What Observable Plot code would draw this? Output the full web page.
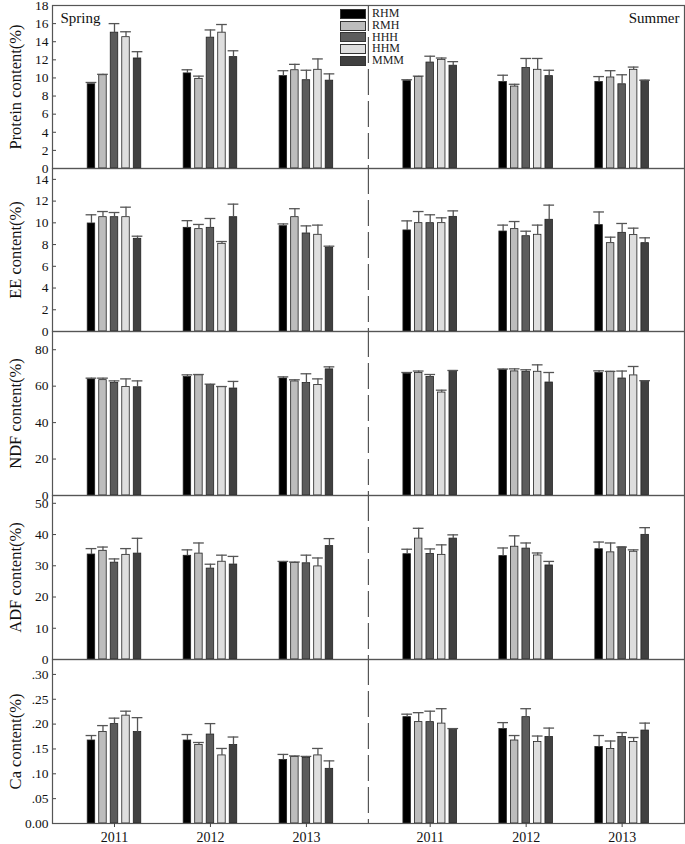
<!DOCTYPE html>
<html>
<head>
<meta charset="utf-8">
<script src="https://cdn.jsdelivr.net/npm/d3@7"></script>
<script src="https://cdn.jsdelivr.net/npm/@observablehq/plot@0.6"></script>
<style>
  html, body { margin: 0; padding: 0; background: #fff; }
  #wrap { position: relative; width: 685px; height: 844px; overflow: hidden;
          font-family: "Liberation Serif", "DejaVu Serif", serif; }
  #wrap svg { display: block; }
  #legend { position: absolute; left: 340px; top: 8px; font-size: 12px; line-height: 11.8px; color: #222; }
  #legend .row { display: flex; align-items: center; height: 11.8px; }
  #legend .sw { width: 24px; height: 8px; border: 1px solid #333; margin-right: 6px; }
</style>
</head>
<body>
<div id="wrap"><div id="legend"></div></div>
<script>
// ---------- data ----------
const seasons = ["Spring", "Summer"];
const years = ["2011", "2012", "2013"];
const treatments = ["RHM", "RMH", "HHH", "HHM", "MMM"];
const colors = ["#000000", "#bdbdbd", "#5c5c5c", "#dedede", "#404040"];

// rows: Spring 2011, 2012, 2013, Summer 2011, 2012, 2013 ; columns: treatments
const proteinMean = [
  [9.3, 10.3, 15.0, 14.5, 12.15],
  [10.5, 9.9, 14.45, 15.0, 12.3],
  [10.2, 10.85, 9.75, 10.9, 9.7],
  [9.65, 10.1, 11.7, 12.0, 11.35],
  [9.55, 9.05, 11.1, 10.9, 10.2],
  [9.55, 10.05, 9.3, 10.9, 9.7]
];
const proteinErr = [
  [0.2, 0.1, 1.0, 0.6, 0.75],
  [0.4, 0.3, 0.85, 0.9, 0.7],
  [0.6, 0.65, 1.1, 1.2, 0.75],
  [0.15, 0.1, 0.7, 0.2, 0.45],
  [0.75, 0.25, 1.05, 1.25, 0.65],
  [0.6, 0.75, 1.05, 0.3, 0.05]
];
const eeMean = [
  [9.94, 10.52, 10.52, 10.52, 8.53],
  [9.54, 9.42, 9.54, 8.07, 10.52],
  [9.69, 10.52, 9.02, 8.9, 7.7],
  [9.3, 9.97, 9.97, 9.97, 10.55],
  [9.2, 9.42, 8.77, 8.9, 10.28],
  [9.79, 8.13, 9.08, 8.87, 8.13]
];
const eeErr = [
  [0.8, 0.52, 0.43, 0.92, 0.24],
  [0.66, 0.43, 0.86, 0.21, 1.2],
  [0.21, 0.78, 0.7, 0.89, 0.15],
  [0.88, 1.07, 0.77, 0.49, 0.55],
  [0.59, 0.7, 0.46, 0.89, 1.35],
  [1.21, 0.55, 0.86, 0.64, 0.49]
];
const ndfMean = [
  [63.7, 63.3, 61.7, 59.6, 59.4],
  [65.0, 66.0, 60.6, 59.6, 58.7],
  [64.2, 62.6, 61.7, 60.6, 69.2],
  [66.8, 67.3, 65.0, 56.5, 68.4],
  [69.0, 68.1, 67.9, 67.9, 62.0],
  [67.2, 67.9, 64.2, 65.9, 62.8]
];
const ndfErr = [
  [0.7, 1.1, 1.2, 4.4, 3.5],
  [1.2, 0.4, 0.5, 0.2, 3.9],
  [0.9, 0.9, 5.1, 3.4, 1.4],
  [0.7, 1.0, 1.4, 1.3, 0.2],
  [0.4, 1.4, 1.1, 3.8, 5.5],
  [1.2, 0.2, 4.1, 4.9, 0.2]
];
const adfMean = [
  [33.6, 34.8, 31.0, 33.5, 33.9],
  [33.2, 33.9, 29.1, 31.3, 30.4],
  [31.2, 30.9, 30.8, 29.8, 36.3],
  [33.7, 38.7, 33.8, 33.5, 38.7],
  [33.1, 36.1, 35.5, 33.3, 30.1],
  [35.3, 34.3, 35.9, 34.5, 39.9]
];
const adfErr = [
  [1.9, 1.2, 1.2, 2.0, 4.9],
  [1.9, 3.4, 1.4, 2.1, 2.6],
  [0.2, 0.3, 2.6, 2.7, 2.4],
  [1.6, 3.3, 1.6, 3.2, 1.2],
  [2.6, 3.5, 1.8, 0.8, 1.3],
  [2.3, 3.0, 0.1, 0.6, 2.3]
];
const caMean = [
  [0.167, 0.184, 0.200, 0.217, 0.184],
  [0.167, 0.158, 0.179, 0.137, 0.158],
  [0.128, 0.134, 0.132, 0.137, 0.110],
  [0.214, 0.204, 0.204, 0.201, 0.188],
  [0.190, 0.167, 0.214, 0.164, 0.174],
  [0.154, 0.150, 0.174, 0.164, 0.187]
];
const caErr = [
  [0.010, 0.013, 0.012, 0.009, 0.029],
  [0.012, 0.005, 0.022, 0.014, 0.016],
  [0.011, 0.002, 0.003, 0.014, 0.016],
  [0.006, 0.019, 0.022, 0.030, 0.003],
  [0.013, 0.010, 0.017, 0.012, 0.018],
  [0.023, 0.016, 0.009, 0.009, 0.015]
];

const proteinTicks = [0, 2, 4, 6, 8, 10, 12, 14, 16, 18];
const eeTicks = [0, 2, 4, 6, 8, 10, 12, 14];
const ndfTicks = [0, 20, 40, 60, 80];
const adfTicks = [0, 10, 20, 30, 40, 50];
const caTicks = [0, 0.05, 0.10, 0.15, 0.20, 0.25, 0.30];

// ---------- layout helpers ----------
const seasonShift = 3.29;         // summer groups start after a wider gap
const xDomain = [-0.646, 5.94];
const divider = 2.646;
const barStep = 0.12, barW = 0.078, capHalf = 0.056;

const groups = [];
seasons.forEach((s, si) => years.forEach((y, yi) => groups.push({season: s, year: y, pos: yi + si * seasonShift})));

function rows(means, errs) {
  const out = [];
  groups.forEach((g, gi) => treatments.forEach((t, ti) => {
    const xc = g.pos + (ti - 2) * barStep;
    out.push({treatment: t, xc, x1: xc - barW / 2, x2: xc + barW / 2,
              mean: means[gi][ti], top: means[gi][ti] + errs[gi][ti]});
  }));
  return out;
}

const wrap = document.getElementById("wrap");

function panel({label, means, errs, ymax, ticks, fmt, height, marginTop = 0, marginBottom = 0, first = false, last = false}) {
  const data = rows(means, errs);
  const marks = [
    Plot.rectY(data, {x1: "x1", x2: "x2", y1: 0, y2: "mean", fill: "treatment", stroke: "#222", strokeWidth: 0.8}),
    Plot.ruleX(data, {x: "xc", y1: "mean", y2: "top", stroke: "#555", strokeWidth: 1.3}),
    Plot.ruleY(data, {y: "top", x1: d => d.xc - capHalf, x2: d => d.xc + capHalf, stroke: "#555", strokeWidth: 1.3}),
    Plot.ruleX([divider], {stroke: "#555", strokeWidth: 1.2, strokeDasharray: "26,6"}),
    Plot.axisY({ticks, tickSize: -4, tickPadding: 8, tickFormat: fmt, fontSize: 13.5, label: null, stroke: "#444"}),
    Plot.text([label], {frameAnchor: "left", textAnchor: "middle", dx: -37, rotate: -90, fontSize: 16.5, fill: "#111"}),
    Plot.frame({stroke: "#555", strokeWidth: 1.2})
  ];
  if (first) {
    marks.push(Plot.text([seasons[0]], {frameAnchor: "top-left", dx: 8, dy: 7, fontSize: 15, fill: "#111"}));
    marks.push(Plot.text([seasons[1]], {frameAnchor: "top-right", dx: -5, dy: 7, fontSize: 15, fill: "#111"}));
  }
  if (last) {
    const labelMap = new Map(groups.map(g => [g.pos, g.year]));
    marks.push(Plot.axisX({ticks: groups.map(g => g.pos), tickFormat: d => labelMap.get(d), tickSize: 4, tickPadding: 5, fontSize: 14, label: null, stroke: "#444"}));
  }
  const chart = Plot.plot({
    width: 685, height, marginLeft: 52, marginRight: 1, marginTop, marginBottom,
    style: {fontFamily: "Liberation Serif, DejaVu Serif, serif", background: "transparent", overflow: "visible", color: "#111"},
    x: {type: "linear", domain: xDomain, axis: null},
    y: {domain: [0, ymax], axis: null},
    color: {domain: treatments, range: colors},
    marks
  });
  wrap.appendChild(chart);
}

const intFmt = d3.format("d");
const caFmt = d => d === 0 ? "0.00" : d3.format(".2f")(d).replace(/^0/, "");

panel({label: "Protein content(%)", means: proteinMean, errs: proteinErr, ymax: 18, ticks: proteinTicks, fmt: intFmt, height: 168, marginTop: 5, first: true});
panel({label: "EE content(%)", means: eeMean, errs: eeErr, ymax: 15, ticks: eeTicks, fmt: intFmt, height: 163});
panel({label: "NDF content(%)", means: ndfMean, errs: ndfErr, ymax: 90, ticks: ndfTicks, fmt: intFmt, height: 164});
panel({label: "ADF content(%)", means: adfMean, errs: adfErr, ymax: 52.5, ticks: adfTicks, fmt: intFmt, height: 164});
panel({label: "Ca content(%)", means: caMean, errs: caErr, ymax: 0.33, ticks: caTicks, fmt: caFmt, height: 185, marginBottom: 21, last: true});

// legend
const legend = document.getElementById("legend");
treatments.forEach((t, i) => {
  const row = document.createElement("div");
  row.className = "row";
  row.innerHTML = `<span class="sw" style="background:${colors[i]}"></span><span>${t}</span>`;
  legend.appendChild(row);
});
</script>
</body>
</html>
